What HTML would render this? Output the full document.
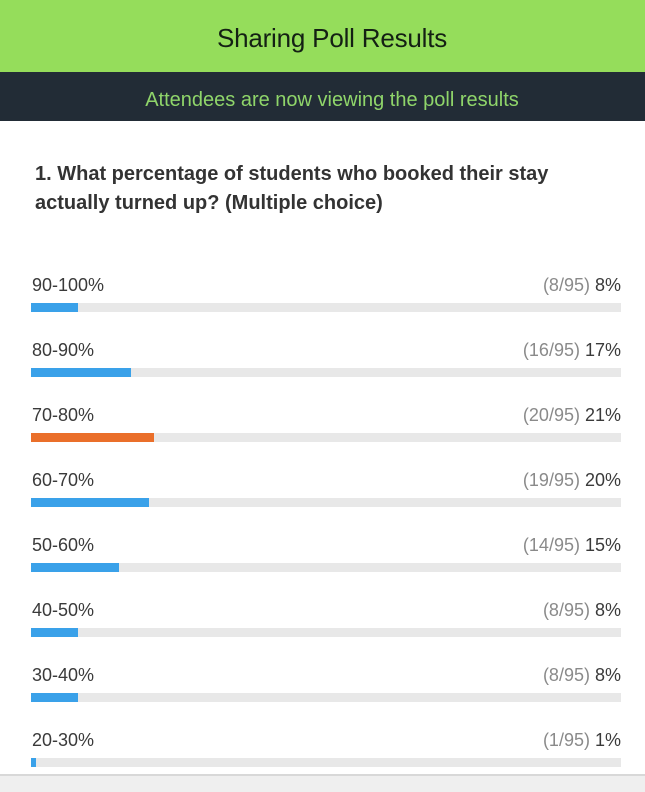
<!DOCTYPE html>
<html>
<head>
<meta charset="utf-8">
<style>
  html, body { margin:0; padding:0; }
  body { width:645px; height:790px; position:relative; overflow:hidden; background:#ffffff; font-family:"Liberation Sans", Arial, sans-serif; }
  .hdr { position:absolute; left:0; top:0; width:645px; height:72px; background:#95dd5b; }
  .hdr .t { position:absolute; left:0; width:664px; top:20px; text-align:center; font-size:26px; line-height:36px; color:#142014; letter-spacing:-0.2px; }
  .sub { position:absolute; left:0; top:72px; width:645px; height:49px; background:#222c36; }
  .sub .t { position:absolute; left:0; width:664px; top:15px; text-align:center; font-size:20px; line-height:26px; color:#8fd56a; }
  .q { position:absolute; left:35px; top:160px; font-size:20px; font-weight:bold; line-height:29px; color:#333333; }
  .row { position:absolute; left:31px; width:590px; height:60px; }
  .lbl { position:absolute; left:1px; top:1px; font-size:18px; line-height:22px; color:#3a3a3a; }
  .val { position:absolute; right:0; top:1px; font-size:18px; line-height:22px; color:#3a3a3a; }
  .val span { color:#8a8a8a; }
  .track { position:absolute; left:0; top:30px; width:590px; height:9px; background:#e8e8e8; }
  .fill { position:absolute; left:0; top:0; height:9px; background:#3aa1e9; }
  .fill.o { background:#ea6f2a; }
  .foot { position:absolute; left:0; top:774px; width:645px; height:16px; background:#efefef; border-top:2px solid #d8d8d8; }
</style>
</head>
<body>
  <div class="hdr"><div class="t">Sharing Poll Results</div></div>
  <div class="sub"><div class="t">Attendees are now viewing the poll results</div></div>
  <div class="q">1. What percentage of students who booked their stay<br>actually turned up? (Multiple choice)</div>

  <div class="row" style="top:273px"><div class="lbl">90-100%</div><div class="val"><span>(8/95)</span> 8%</div><div class="track"><div class="fill" style="width:47px"></div></div></div>
  <div class="row" style="top:338px"><div class="lbl">80-90%</div><div class="val"><span>(16/95)</span> 17%</div><div class="track"><div class="fill" style="width:100px"></div></div></div>
  <div class="row" style="top:403px"><div class="lbl">70-80%</div><div class="val"><span>(20/95)</span> 21%</div><div class="track"><div class="fill o" style="width:123px"></div></div></div>
  <div class="row" style="top:468px"><div class="lbl">60-70%</div><div class="val"><span>(19/95)</span> 20%</div><div class="track"><div class="fill" style="width:118px"></div></div></div>
  <div class="row" style="top:533px"><div class="lbl">50-60%</div><div class="val"><span>(14/95)</span> 15%</div><div class="track"><div class="fill" style="width:88px"></div></div></div>
  <div class="row" style="top:598px"><div class="lbl">40-50%</div><div class="val"><span>(8/95)</span> 8%</div><div class="track"><div class="fill" style="width:47px"></div></div></div>
  <div class="row" style="top:663px"><div class="lbl">30-40%</div><div class="val"><span>(8/95)</span> 8%</div><div class="track"><div class="fill" style="width:47px"></div></div></div>
  <div class="row" style="top:728px"><div class="lbl">20-30%</div><div class="val"><span>(1/95)</span> 1%</div><div class="track"><div class="fill" style="width:5px"></div></div></div>

  <div class="foot"></div>
</body>
</html>
